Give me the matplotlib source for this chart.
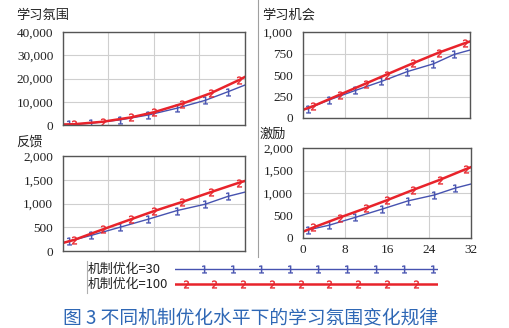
import numpy as np
import matplotlib.pyplot as plt
from matplotlib.lines import Line2D
from matplotlib.ticker import FuncFormatter

plt.rcParams['font.family'] = ['Noto Sans CJK SC', 'DejaVu Sans']

# simulation time (months) where the curve markers sit, per scenario
t_30 = [0, 1, 5, 10, 15, 20, 25, 29, 32]
t_100 = [0, 2, 7, 12, 16, 21, 26, 31, 32]

atmos_30 = [200, 250, 800, 2200, 4300, 7200, 10600, 14300, 17200]
atmos_100 = [200, 350, 1400, 3300, 5500, 9200, 13700, 19400, 20700]

chance_30 = [95, 110, 210, 320, 425, 540, 630, 740, 790]
chance_100 = [95, 140, 270, 400, 505, 635, 760, 870, 890]

feedback_30 = [170, 205, 330, 500, 670, 850, 985, 1150, 1240]
feedback_100 = [170, 235, 455, 670, 840, 1035, 1240, 1440, 1475]

incent_30 = [140, 180, 285, 460, 640, 825, 955, 1110, 1200]
incent_100 = [140, 235, 455, 665, 840, 1070, 1290, 1530, 1575]

titles = ['学习氛围', '学习机会', '反馈', '激励']
ymax = [40000, 1000, 2000, 2000]
yticks = [[0, 10000, 20000, 30000, 40000], [0, 250, 500, 750, 1000],
          [0, 500, 1000, 1500, 2000], [0, 500, 1000, 1500, 2000]]
xticks = [0, 8, 16, 24, 32]
series = [(atmos_30, atmos_100), (chance_30, chance_100),
          (feedback_30, feedback_100), (incent_30, incent_100)]
labels = ['机制优化=30', '机制优化=100']

blue = '#4652b0'
red = '#e8232b'
mk = dict(ms=5.5, mew=0.3)

W, H = 510, 328
fig = plt.figure(figsize=(W / 100, H / 100), dpi=100)


def px_axes(l, t, r, b):
    return fig.add_axes([l / W, 1 - b / H, (r - l) / W, (b - t) / H])


# panel boxes in pixels: left, top, right, bottom
boxes = [(63, 32, 245, 125), (303, 32, 470, 118),
         (63, 156, 245, 251), (303, 148, 471, 238)]
title_pos = [(16, 15), (262, 15), (16, 142), (260, 134)]

for i, ax_box in enumerate(boxes):
    ax = px_axes(*ax_box)
    s30, s100 = series[i]
    ax.plot(t_30, s30, color=blue, lw=1.0, marker='$1$',
            markevery=slice(1, -1), mec=blue, mfc=blue, **mk)
    ax.plot(t_100, s100, color=red, lw=1.8, marker='$2$',
            markevery=slice(1, -1), mec=red, mfc=red, **mk)
    ax.set_xlim(0, 32)
    ax.set_ylim(0, ymax[i])
    ax.set_xticks(xticks)
    ax.set_yticks(yticks[i])
    ax.yaxis.set_major_formatter(FuncFormatter(lambda v, p: f'{v:,.0f}'))
    ax.grid(True, color='#cfcfcf', lw=0.8)
    ax.set_axisbelow(True)
    for sp in ax.spines.values():
        sp.set_color('#555555')
        sp.set_linewidth(1.0)
    ax.tick_params(length=0, pad=7, labelsize=9.5,
                   labelfontfamily='Liberation Serif', labelcolor='#222222')
    if i == 3:
        ax.tick_params(axis='x', pad=4)
    else:
        ax.set_xticklabels([])
    tx, ty = title_pos[i]
    fig.text(tx / W, 1 - ty / H, titles[i], fontsize=9.5, va='center',
             ha='left', color='#222222')

# divider between left and right panels
fig.add_artist(Line2D([258 / W, 258 / W], [1, 1 - 257 / H],
                      color='#a0a0a0', lw=0.8))
fig.add_artist(Line2D([87 / W, 87 / W], [1 - 261 / H, 1 - 293 / H],
                      color='#b0b0b0', lw=0.8))

# legend strip: label text on the left, sample line with its markers
leg = px_axes(175, 262, 438, 292)
leg.set_xlim(0, 1)
leg.set_ylim(0, 1)
leg.axis('off')
lx = np.linspace(0, 1, 2)
leg.plot(lx, [0.77, 0.77], color=blue, lw=1.0)
leg.plot(np.linspace(0.11, 0.98, 9), [0.77] * 9, ls='none', marker='$1$',
         mec=blue, mfc=blue, **mk)
leg.plot(lx, [0.27, 0.27], color=red, lw=1.8)
leg.plot(np.linspace(0.04, 0.915, 9), [0.27] * 9, ls='none', marker='$2$',
         mec=red, mfc=red, **mk)
for lab, y in zip(labels, [269, 284]):
    fig.text(88 / W, 1 - y / H, lab, fontsize=9.3, va='center', ha='left',
             color='#222222')

fig.text(251 / W, 1 - 318 / H, '图 3 不同机制优化水平下的学习氛围变化规律',
         fontsize=13.5, color='#2e67b5', ha='center', va='center')

fig.savefig('out.png', dpi=100)
